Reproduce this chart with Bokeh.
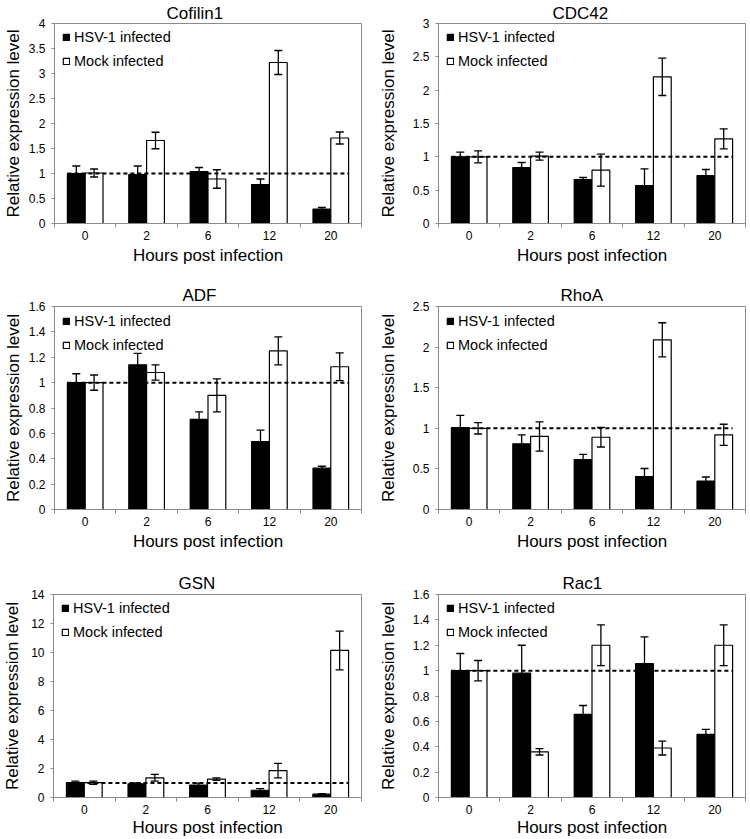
from bokeh.plotting import figure
from bokeh.layouts import column, row
from bokeh.models import (Range1d, FixedTicker, Whisker, TeeHead, ColumnDataSource,
                          Legend, LegendItem)
from bokeh.embed import file_html
from bokeh.resources import INLINE

# ---------------- data ----------------
hours = ["0", "2", "6", "12", "20"]
series_labels = ["HSV-1 infected", "Mock infected"]
x_title = "Hours post infection"
y_title = "Relative expression level"
reference_level = 1.0

cofilin1_hsv = [1.00, 0.98, 1.04, 0.78, 0.29]
cofilin1_hsv_err = [0.15, 0.17, 0.08, 0.11, 0.03]
cofilin1_mock = [1.01, 1.66, 0.89, 3.22, 1.71]
cofilin1_mock_err = [0.08, 0.165, 0.185, 0.24, 0.12]
cofilin1_yticks = [0, 0.5, 1, 1.5, 2, 2.5, 3, 3.5, 4]

cdc42_hsv = [1.00, 0.84, 0.66, 0.57, 0.72]
cdc42_hsv_err = [0.07, 0.075, 0.03, 0.25, 0.09]
cdc42_mock = [1.00, 1.01, 0.80, 2.20, 1.27]
cdc42_mock_err = [0.09, 0.06, 0.24, 0.28, 0.15]
cdc42_yticks = [0, 0.5, 1, 1.5, 2, 2.5, 3]

adf_hsv = [1.00, 1.14, 0.71, 0.535, 0.326]
adf_hsv_err = [0.07, 0.09, 0.06, 0.09, 0.015]
adf_mock = [1.00, 1.08, 0.90, 1.25, 1.125]
adf_mock_err = [0.06, 0.06, 0.13, 0.11, 0.11]
adf_yticks = [0, 0.2, 0.4, 0.6, 0.8, 1, 1.2, 1.4, 1.6]

rhoa_hsv = [1.01, 0.81, 0.615, 0.405, 0.35]
rhoa_hsv_err = [0.15, 0.11, 0.065, 0.10, 0.05]
rhoa_mock = [1.00, 0.90, 0.89, 2.09, 0.92]
rhoa_mock_err = [0.07, 0.18, 0.12, 0.21, 0.13]
rhoa_yticks = [0, 0.5, 1, 1.5, 2, 2.5]

gsn_hsv = [1.02, 0.95, 0.86, 0.50, 0.23]
gsn_hsv_err = [0.11, 0.05, 0.13, 0.11, 0.04]
gsn_mock = [1.02, 1.36, 1.27, 1.86, 10.14]
gsn_mock_err = [0.11, 0.23, 0.09, 0.50, 1.34]
gsn_yticks = [0, 2, 4, 6, 8, 10, 12, 14]

rac1_hsv = [1.00, 0.98, 0.655, 1.056, 0.497]
rac1_hsv_err = [0.135, 0.22, 0.07, 0.21, 0.04]
rac1_mock = [1.00, 0.36, 1.20, 0.39, 1.20]
rac1_mock_err = [0.08, 0.025, 0.16, 0.055, 0.16]
rac1_yticks = [0, 0.2, 0.4, 0.6, 0.8, 1, 1.2, 1.4, 1.6]

# ---------------- styling ----------------
FONT = "Liberation Sans"
GRAY = "#8a8a8a"
FIG_W = 375
COLS = [dict(left=49, right=14, ylab_standoff=3), dict(left=62, right=5, ylab_standoff=12)]
ROWS = [dict(top=21, frame=202, bottom=58, xlab_standoff=3),
        dict(top=24, frame=204, bottom=60, xlab_standoff=3),
        dict(top=24, frame=205, bottom=41, xlab_standoff=1)]
BAR_W = 0.29
DODGE = 0.145
LEG_ITEM_H = 24


def make_panel(title, hsv, hsv_err, mock, mock_err, yticks, col, rw, title_offset, ylab_extra=0):
    c = COLS[col]
    r = ROWS[rw]
    n = len(hours)
    centers = [i + 0.5 for i in range(n)]
    bounds = [float(i) for i in range(n + 1)]
    p = figure(width=FIG_W, height=r["top"] + r["frame"] + r["bottom"],
               output_backend="svg", toolbar_location=None,
               x_range=Range1d(0, n), y_range=Range1d(yticks[0], yticks[-1]),
               min_border_left=c["left"], min_border_right=c["right"],
               min_border_top=r["top"], min_border_bottom=r["bottom"],
               title=title, background_fill_color="white", border_fill_color="white")

    x_hsv = [x - DODGE for x in centers]
    x_mock = [x + DODGE for x in centers]
    r_hsv = p.vbar(x=x_hsv, top=hsv, width=BAR_W, bottom=0,
                   fill_color="black", line_color="black", line_width=1.2)
    r_mock = p.vbar(x=x_mock, top=mock, width=BAR_W, bottom=0,
                    fill_color="white", line_color="black", line_width=1.2)

    for xs, vals, errs in ((x_hsv, hsv, hsv_err), (x_mock, mock, mock_err)):
        src = ColumnDataSource(dict(base=xs,
                                    upper=[v + e for v, e in zip(vals, errs)],
                                    lower=[v - e for v, e in zip(vals, errs)]))
        w = Whisker(source=src, base="base", upper="upper", lower="lower",
                    line_color="black", line_width=1.3, level="annotation",
                    upper_head=TeeHead(size=8, line_color="black", line_width=1.3),
                    lower_head=TeeHead(size=8, line_color="black", line_width=1.3))
        p.add_layout(w)

    p.line(x=[x_hsv[0] - BAR_W / 2, x_mock[-1] + BAR_W / 2],
           y=[reference_level, reference_level],
           line_color="black", line_width=2, line_dash="4 3")

    legend = Legend(items=[LegendItem(label=series_labels[0], renderers=[r_hsv]),
                           LegendItem(label=series_labels[1], renderers=[r_mock])],
                    location=(8, r["frame"] - 4 - 2 * LEG_ITEM_H),
                    margin=0, padding=0, spacing=0,
                    label_height=LEG_ITEM_H, glyph_width=8, glyph_height=8, label_standoff=4,
                    label_text_font=FONT, label_text_font_size="14.5px",
                    label_text_color="black",
                    border_line_color=None, background_fill_alpha=0)
    p.add_layout(legend)

    p.xgrid.visible = False
    p.ygrid.visible = False
    p.outline_line_color = GRAY
    p.outline_line_width = 1

    p.title.text_font = FONT
    p.title.text_font_size = "17px"
    p.title.text_font_style = "normal"
    p.title.text_color = "black"
    p.title.align = "left"
    p.title.offset = title_offset
    p.title.standoff = 2 if rw == 0 else 4

    for ax in (p.xaxis[0], p.yaxis[0]):
        ax.axis_line_color = GRAY
        ax.axis_line_width = 1
        ax.major_label_text_font = FONT
        ax.major_label_text_font_size = "12px"
        ax.major_label_text_color = "black"
        ax.axis_label_text_font = FONT
        ax.axis_label_text_font_size = "17px"
        ax.axis_label_text_font_style = "normal"
        ax.axis_label_text_color = "black"

    xa = p.xaxis[0]
    xa.axis_label = x_title
    xa.ticker = FixedTicker(ticks=centers, minor_ticks=bounds)
    xa.major_label_overrides = {x: h for x, h in zip(centers, hours)}
    xa.major_tick_line_color = None
    xa.major_tick_out = 4
    xa.major_tick_in = 0
    xa.minor_tick_line_color = GRAY
    xa.minor_tick_out = 4
    xa.minor_tick_in = 0
    xa.major_label_standoff = 3
    xa.axis_label_standoff = r["xlab_standoff"]

    ya = p.yaxis[0]
    ya.axis_label = y_title
    ya.ticker = FixedTicker(ticks=yticks)
    ya.major_label_overrides = {t: f"{t:g}" for t in yticks}
    ya.major_tick_line_color = GRAY
    ya.major_tick_out = 3
    ya.major_tick_in = 0
    ya.minor_tick_line_color = None
    ya.major_label_standoff = 6
    ya.axis_label_standoff = c["ylab_standoff"] + ylab_extra
    return p


p1 = make_panel("Cofilin1", cofilin1_hsv, cofilin1_hsv_err, cofilin1_mock, cofilin1_mock_err,
                cofilin1_yticks, 0, 0, 112)
p2 = make_panel("CDC42", cdc42_hsv, cdc42_hsv_err, cdc42_mock, cdc42_mock_err,
                cdc42_yticks, 1, 0, 114)
p3 = make_panel("ADF", adf_hsv, adf_hsv_err, adf_mock, adf_mock_err,
                adf_yticks, 0, 1, 128)
p4 = make_panel("RhoA", rhoa_hsv, rhoa_hsv_err, rhoa_mock, rhoa_mock_err,
                rhoa_yticks, 1, 1, 122)
p5 = make_panel("GSN", gsn_hsv, gsn_hsv_err, gsn_mock, gsn_mock_err,
                gsn_yticks, 0, 2, 125, ylab_extra=3)
p6 = make_panel("Rac1", rac1_hsv, rac1_hsv_err, rac1_mock, rac1_mock_err,
                rac1_yticks, 1, 2, 124)

layout = column(row(p1, p2), row(p3, p4), row(p5, p6))

open("out.html", "w").write(file_html(layout, INLINE))
